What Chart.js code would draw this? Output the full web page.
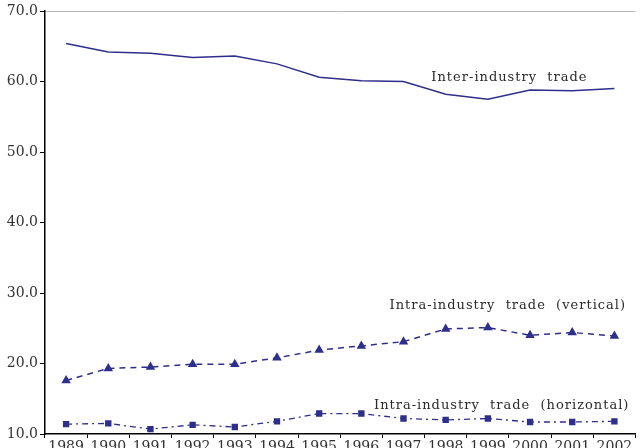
<!DOCTYPE html>
<html>
<head>
<meta charset="utf-8">
<script src="https://cdn.jsdelivr.net/npm/chart.js@4"></script>
<style>
  html, body { margin: 0; padding: 0; background: #fff; }
  #wrap { width: 641px; height: 448px; }
</style>
</head>
<body>
<div id="wrap"><canvas id="chart"></canvas></div>
<script>
const years = ["1989", "1990", "1991", "1992", "1993", "1994", "1995", "1996", "1997", "1998", "1999", "2000", "2001", "2002"];
const interIndustry = [65.4, 64.2, 64.0, 63.4, 63.6, 62.5, 60.6, 60.1, 60.0, 58.2, 57.5, 58.8, 58.7, 59.0];
const intraVertical = [17.6, 19.3, 19.5, 19.9, 19.9, 20.8, 21.9, 22.5, 23.1, 24.9, 25.1, 24.0, 24.4, 23.9];
const intraHorizontal = [11.4, 11.5, 10.7, 11.3, 11.0, 11.8, 12.9, 12.9, 12.2, 12.0, 12.2, 11.7, 11.7, 11.8];
const seriesNames = ["Inter-industry  trade", "Intra-industry  trade  (vertical)", "Intra-industry  trade  (horizontal)"];

const navy = "#2e2e8c";
const serif = "'DejaVu Serif', serif";

// text labels placed next to each line, anchored in data units
const labelSpots = [
  { x: 8.66, y: 60.6 },
  { x: 7.67, y: 28.2 },
  { x: 7.30, y: 14.0 }
];

const lineLabels = {
  id: "lineLabels",
  afterDatasetsDraw(chart) {
    const ctx = chart.ctx;
    const xs = chart.scales.x, ys = chart.scales.y;
    ctx.save();
    ctx.font = "13px " + serif;
    ctx.fillStyle = "#2a2a2a";
    ctx.textBaseline = "middle";
    ctx.textAlign = "left";
    ctx.letterSpacing = "1px";
    seriesNames.forEach((name, i) => {
      ctx.fillText(name, xs.getPixelForValue(labelSpots[i].x), ys.getPixelForValue(labelSpots[i].y));
    });
    ctx.restore();
  }
};

new Chart(document.getElementById("chart"), {
  type: "line",
  data: {
    labels: years,
    datasets: [
      {
        label: seriesNames[0],
        data: interIndustry,
        borderColor: navy,
        borderWidth: 1.5,
        pointRadius: 0,
        tension: 0
      },
      {
        label: seriesNames[1],
        data: intraVertical,
        borderColor: navy,
        backgroundColor: navy,
        borderWidth: 1.5,
        borderDash: [6, 5],
        pointStyle: "triangle",
        pointRadius: 5.5,
        pointBorderWidth: 0,
        tension: 0
      },
      {
        label: seriesNames[2],
        data: intraHorizontal,
        borderColor: navy,
        backgroundColor: navy,
        borderWidth: 1.3,
        borderDash: [6, 4, 2, 4],
        pointStyle: "rect",
        pointRadius: 4.5,
        pointBorderWidth: 0,
        tension: 0
      }
    ]
  },
  options: {
    responsive: true,
    maintainAspectRatio: false,
    animation: false,
    layout: { padding: { top: 11, right: 0, left: 0, bottom: 0 } },
    plugins: {
      legend: { display: false },
      tooltip: { enabled: false }
    },
    scales: {
      x: {
        offset: true,
        grid: {
          offset: true,
          drawOnChartArea: false,
          tickLength: 4,
          tickColor: "#000"
        },
        border: { color: "#000", width: 1.5 },
        ticks: {
          padding: 1,
          maxRotation: 0,
          autoSkip: false,
          color: "#333",
          font: { family: serif, size: 14 }
        },
        afterFit(scale) { scale.height = 14; }
      },
      y: {
        min: 10,
        max: 70,
        ticks: {
          stepSize: 10,
          padding: 2,
          color: "#333",
          font: { family: serif, size: 14 },
          callback: v => v.toFixed(1)
        },
        grid: {
          tickLength: 5,
          tickColor: "#000",
          color: c => (c.tick && c.tick.value === 70 ? "#bbbbbb" : "rgba(0,0,0,0)")
        },
        border: { color: "#000", width: 1.5 },
        afterFit(scale) { scale.width = 45; }
      }
    }
  },
  plugins: [lineLabels]
});
</script>
</body>
</html>
